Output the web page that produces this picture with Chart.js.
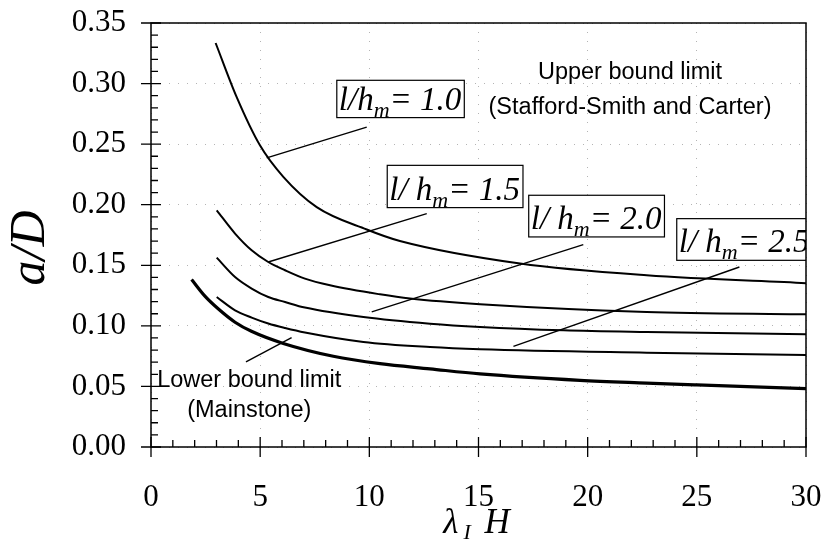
<!DOCTYPE html>
<html>
<head>
<meta charset="utf-8">
<script src="https://cdn.jsdelivr.net/npm/chart.js@4.4.1/dist/chart.umd.min.js"></script>
<style>
  html, body { margin: 0; padding: 0; background: #fff; }
  #wrap { width: 821px; height: 539px; }
</style>
</head>
<body>
<div id="wrap"><canvas id="c" width="821" height="539"></canvas></div>
<script>
// values (x = lambda_I H, y = a/D)
const xTicks = [0, 5, 10, 15, 20, 25, 30];
const yTicks = [0, 0.05, 0.10, 0.15, 0.20, 0.25, 0.30, 0.35];

const x10 = [2.96, 3.92, 4.99, 6.06, 7.59, 9.88, 11.4, 16.9, 22.7, 30];
const y10 = [0.3335, 0.289, 0.249, 0.223, 0.198, 0.1795, 0.170, 0.1514, 0.1417, 0.1352];

const x15 = [3.01, 3.85, 4.61, 5.37, 6.14, 7.05, 8.2, 10.49, 11.86, 15.07, 22.7, 30];
const y15 = [0.1954, 0.1762, 0.1624, 0.1527, 0.1459, 0.139, 0.1335, 0.126, 0.1225, 0.1178, 0.1115, 0.1095];

const x20 = [3.01, 3.85, 4.61, 5.37, 6.14, 7.05, 9.73, 12.78, 15.07, 18.9, 22.7, 30];
const y20 = [0.1563, 0.1403, 0.1308, 0.1238, 0.1197, 0.1151, 0.1073, 0.1018, 0.0991, 0.0963, 0.0949, 0.0930];

const x25 = [3.01, 3.85, 4.61, 5.37, 6.14, 7.05, 9.73, 12.78, 15.07, 22.7, 30];
const y25 = [0.1238, 0.1128, 0.1068, 0.1019, 0.0982, 0.0945, 0.0867, 0.0825, 0.0807, 0.0779, 0.0760];

const xLow = [1.86, 2.47, 3.05, 3.85, 4.6, 6.06, 8.35, 10.49, 12.78, 15.07, 19.65, 22.7, 25.0, 30];
const yLow = [0.1382, 0.1245, 0.1145, 0.1030, 0.0955, 0.0855, 0.0749, 0.0688, 0.0645, 0.0603, 0.0550, 0.0528, 0.0513, 0.0482];

// leader lines [x1, y1, x2, y2]
const leaders = [
  [5.3, 0.2386, 9.88, 0.264],
  [5.37, 0.1527, 12.63, 0.1927],
  [10.11, 0.1115, 19.8, 0.167],
  [16.6, 0.0831, 26.95, 0.1486],
  [4.35, 0.0702, 6.44, 0.0903]
];

// label boxes: value, prefix, left, top, bottom (data units)
const boxVals = ['1.0', '1.5', '2.0', '2.5'];
const boxPre = ['l/h', 'l/ h', 'l/ h', 'l/ h'];
const boxPos = [[8.51, 0.3027, 0.2719], [10.82, 0.2325, 0.1976], [17.30, 0.2078, 0.1734], [24.08, 0.1885, 0.1541]];

function pts(xs, ys) { return xs.map((x, i) => ({x: x, y: ys[i]})); }

const curveStyle = {borderColor: '#000', pointRadius: 0, cubicInterpolationMode: 'monotone', fill: false};
let datasets = [
  Object.assign({data: pts(x10, y10), borderWidth: 2}, curveStyle),
  Object.assign({data: pts(x15, y15), borderWidth: 2}, curveStyle),
  Object.assign({data: pts(x20, y20), borderWidth: 2}, curveStyle),
  Object.assign({data: pts(x25, y25), borderWidth: 2}, curveStyle),
  Object.assign({data: pts(xLow, yLow), borderWidth: 3.2}, curveStyle)
];
leaders.forEach(l => {
  datasets.push({data: [{x: l[0], y: l[1]}, {x: l[2], y: l[3]}], borderColor: '#000', borderWidth: 1.4, pointRadius: 0});
});

function rich(ctx, parts, x, y) {
  let cx = x;
  parts.forEach(p => {
    ctx.font = p.f;
    ctx.fillText(p.t, cx, y + (p.dy || 0));
    cx += ctx.measureText(p.t).width + (p.gap || 0);
  });
  return cx - x;
}
function richWidth(ctx, parts) {
  let w = 0;
  parts.forEach(p => { ctx.font = p.f; w += ctx.measureText(p.t).width + (p.gap || 0); });
  return w;
}

const deco = {
  id: 'deco',
  afterDatasetsDraw(chart) {
    const ctx = chart.ctx;
    const a = chart.chartArea;
    const xs = chart.scales.x, ys = chart.scales.y;
    ctx.save();
    ctx.strokeStyle = '#000';
    ctx.fillStyle = '#000';

    // label boxes
    ctx.save();
    ctx.beginPath();
    ctx.rect(a.left, a.top, a.right - a.left, a.bottom - a.top);
    ctx.clip();
    boxVals.forEach((v, i) => {
      const parts = [
        {t: boxPre[i], f: 'italic 33px "Liberation Serif"'},
        {t: 'm', f: 'italic 22px "Liberation Serif"', dy: 7},
        {t: '= ' + v, f: 'italic 33px "Liberation Serif"'}
      ];
      const left = xs.getPixelForValue(boxPos[i][0]);
      const top = ys.getPixelForValue(boxPos[i][1]);
      const bot = ys.getPixelForValue(boxPos[i][2]);
      const w = richWidth(ctx, parts) + 5;
      ctx.fillStyle = '#fff';
      ctx.fillRect(left, top, w, bot - top);
      ctx.lineWidth = 1.2;
      ctx.strokeRect(left, top, w, bot - top);
      ctx.fillStyle = '#000';
      ctx.textBaseline = 'alphabetic';
      ctx.textAlign = 'left';
      rich(ctx, parts, left + 2, bot - 8);
    });
    ctx.restore();

    // frame
    ctx.lineWidth = 1.5;
    ctx.strokeRect(a.left, a.top, a.right - a.left, a.bottom - a.top);

    // ticks
    ctx.lineWidth = 1.3;
    ctx.beginPath();
    for (let v = 0; v <= 30; v++) {
      const px = xs.getPixelForValue(v);
      if (v % 5 === 0) { ctx.moveTo(px, a.bottom - 10); ctx.lineTo(px, a.bottom + 10); }
      else { ctx.moveTo(px, a.bottom); ctx.lineTo(px, a.bottom - 7); }
    }
    for (let i = 0; i <= 35; i++) {
      const py = ys.getPixelForValue(i / 100);
      if (i % 5 === 0) { ctx.moveTo(a.left - 10, py); ctx.lineTo(a.left + 10, py); }
      else { ctx.moveTo(a.left, py); ctx.lineTo(a.left + 7, py); }
    }
    ctx.stroke();

    // plain notes
    ctx.font = '23.5px "Liberation Sans"';
    ctx.textAlign = 'center';
    ctx.textBaseline = 'middle';
    ctx.fillText('Upper bound limit', xs.getPixelForValue(21.94), ys.getPixelForValue(0.3095));
    ctx.fillText('(Stafford-Smith and Carter)', xs.getPixelForValue(21.94), ys.getPixelForValue(0.2806));
    ctx.fillText('Lower bound limit', xs.getPixelForValue(4.5), ys.getPixelForValue(0.055));
    ctx.fillText('(Mainstone)', xs.getPixelForValue(4.5), ys.getPixelForValue(0.0303));

    // axis titles
    ctx.save();
    ctx.translate(31, 248);
    ctx.rotate(-Math.PI / 2);
    ctx.font = 'italic 50px "Liberation Serif"';
    ctx.textAlign = 'center';
    ctx.textBaseline = 'middle';
    ctx.fillText('a/D', 0, 0);
    ctx.restore();

    const tparts = [
      {t: 'λ', f: 'italic 35px "Liberation Serif"', gap: 5},
      {t: 'I', f: 'italic 22px "Liberation Serif"', dy: 6, gap: 5},
      {t: ' H', f: 'italic 35px "Liberation Serif"'}
    ];
    ctx.textAlign = 'left';
    ctx.textBaseline = 'alphabetic';
    const tw = richWidth(ctx, tparts);
    rich(ctx, tparts, (a.left + a.right) / 2 - tw / 2 - 2, 533);
    ctx.restore();
  }
};

const tickFont = {family: '"Liberation Serif"', size: 31};
new Chart(document.getElementById('c').getContext('2d'), {
  type: 'line',
  data: {datasets: datasets},
  options: {
    responsive: false,
    animation: false,
    layout: {padding: {top: 23, right: 15, left: 0, bottom: 0}},
    plugins: {legend: {display: false}, tooltip: {enabled: false}},
    scales: {
      x: {
        type: 'linear', min: 0, max: 30,
        afterBuildTicks: s => { s.ticks = xTicks.map(v => ({value: v})); },
        afterFit: s => { s.height = 92; s.paddingLeft = 0; s.paddingRight = 0; },
        ticks: {font: tickFont, color: '#000', padding: 32, maxRotation: 0, autoSkip: false},
        grid: {color: '#b4b4b4', lineWidth: 1, drawTicks: false},
        border: {display: false, dash: [1, 8]}
      },
      y: {
        type: 'linear', min: 0, max: 0.35,
        afterBuildTicks: s => { s.ticks = yTicks.map(v => ({value: v})); },
        afterFit: s => { s.width = 151; s.paddingTop = 0; s.paddingBottom = 0; },
        ticks: {font: tickFont, color: '#000', padding: 25, autoSkip: false, callback: v => v.toFixed(2)},
        grid: {color: '#b4b4b4', lineWidth: 1, drawTicks: false},
        border: {display: false, dash: [1, 8]}
      }
    }
  },
  plugins: [deco]
});
</script>
</body>
</html>
